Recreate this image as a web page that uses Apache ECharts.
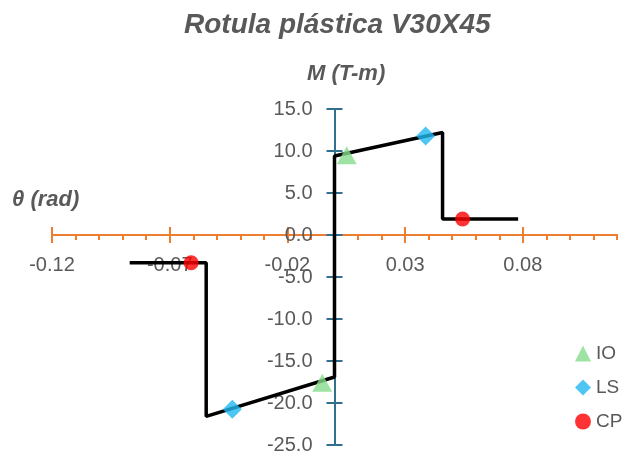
<!DOCTYPE html>
<html>
<head>
<meta charset="utf-8">
<script src="https://cdn.jsdelivr.net/npm/echarts@6/dist/echarts.min.js"></script>
<style>html,body{margin:0;padding:0;background:#fff}#c{width:624px;height:456px}</style>
</head>
<body>
<div id="c"></div>
<script>
// ---- data ----
const titleText = 'Rotula plástica V30X45';
const xAxisName = 'θ (rad)';
const yAxisName = 'M (T-m)';
const xTickLabels = [-0.12, -0.07, -0.02, 0.03, 0.08];
const xMinorTicks = [-0.11, -0.10, -0.09, -0.08, -0.06, -0.05, -0.04, -0.03, -0.01, 0.00, 0.01, 0.02, 0.04, 0.05, 0.06, 0.07, 0.09, 0.10, 0.11, 0.12];
const yTickLabels = [-25, -20, -15, -10, -5, 0, 5, 10, 15];
const thetaLine = [-0.087, -0.0545, -0.0545, 0.0, 0.0, 0.0459, 0.0459, 0.078];
const mLine = [-3.3, -3.3, -21.6, -16.9, 9.4, 12.2, 1.9, 1.9];
const ioTheta = [0.0052, -0.0052];
const ioM = [9.5, -17.6];
const lsTheta = [0.0387, -0.0434];
const lsM = [11.8, -20.75];
const cpTheta = [0.0544, -0.0609];
const cpM = [1.9, -3.3];

const pairs = (xs, ys) => xs.map((x, i) => [x, ys[i]]);
const FONT = 'Liberation Sans';
const GREY = '#595959';
const XCOL = '#ED7D31';
const YCOL = '#31708F';

// grid geometry
const G = { left: 52, right: 7, top: 109, bottom: 11, w: 624, h: 456 };
const xMin = -0.12, xMax = 0.12, yMin = -25, yMax = 15;
const plotW = G.w - G.left - G.right, plotH = G.h - G.top - G.bottom;
const xAxisOffset = -plotH * (0 - yMin) / (yMax - yMin);      // move x axis up to M = 0
const yAxisOffset = -plotW * (0 - xMin) / (xMax - xMin);      // move y axis right to θ = 0

const baseX = {
  type: 'value', min: xMin, max: xMax, position: 'bottom', offset: xAxisOffset,
  axisLine: { show: true, onZero: false, lineStyle: { color: XCOL, width: 2 } },
  splitLine: { show: false }
};
const baseY = {
  type: 'value', min: yMin, max: yMax, interval: 5, position: 'left', offset: yAxisOffset,
  axisLine: { show: true, onZero: false, lineStyle: { color: YCOL, width: 2 } },
  splitLine: { show: false }
};

const chart = echarts.init(document.getElementById('c'), null, { renderer: 'canvas' });
chart.setOption({
  animation: false,
  backgroundColor: '#fff',
  title: {
    text: titleText, left: 179, top: 6,
    textStyle: { fontFamily: FONT, fontSize: 28, fontWeight: 'bold', fontStyle: 'italic', color: GREY }
  },
  graphic: [
    { type: 'text', left: 307, top: 63, style: { text: yAxisName, font: 'italic bold 22px ' + FONT, fill: GREY } },
    { type: 'text', left: 12, top: 189, style: { text: xAxisName, font: 'italic bold 22px ' + FONT, fill: GREY } }
  ],
  grid: { left: G.left, right: G.right, top: G.top, bottom: G.bottom, containLabel: false, outerBoundsMode: 'none' },
  legend: {
    orient: 'vertical', left: 570, top: 339, itemWidth: 16, itemHeight: 16, itemGap: 15,
    textStyle: { fontFamily: FONT, fontSize: 19, color: GREY },
    data: ['IO', 'LS', 'CP']
  },
  xAxis: [
    Object.assign({}, baseX, {
      axisTick: { show: true, inside: false, length: 8, customValues: xTickLabels, lineStyle: { color: XCOL, width: 2 } },
      axisLabel: { show: true, customValues: xTickLabels, margin: 20, fontFamily: FONT, fontSize: 20, color: GREY,
        hideOverlap: false, formatter: v => v.toFixed(2) }
    }),
    Object.assign({}, baseX, {
      axisTick: { show: true, inside: true, length: 8, customValues: xTickLabels, lineStyle: { color: XCOL, width: 2 } },
      axisLabel: { show: false }
    }),
    Object.assign({}, baseX, {
      axisTick: { show: true, inside: false, length: 5, customValues: xMinorTicks, lineStyle: { color: XCOL, width: 2 } },
      axisLabel: { show: false }
    })
  ],
  yAxis: [
    Object.assign({}, baseY, {
      axisTick: { show: true, inside: false, length: 8, customValues: yTickLabels, lineStyle: { color: YCOL, width: 2 } },
      axisLabel: { show: true, customValues: yTickLabels, margin: 22, fontFamily: FONT, fontSize: 20, color: GREY,
        hideOverlap: false, formatter: v => v.toFixed(1) }
    }),
    Object.assign({}, baseY, {
      axisTick: { show: true, inside: true, length: 8, customValues: yTickLabels, lineStyle: { color: YCOL, width: 2 } },
      axisLabel: { show: false }
    })
  ],
  series: [
    { name: 'curve', type: 'line', xAxisIndex: 0, yAxisIndex: 0, data: pairs(thetaLine, mLine),
      showSymbol: false, symbol: 'none', lineStyle: { color: '#000', width: 3.5 }, z: 3 },
    { name: 'IO', type: 'scatter', data: pairs(ioTheta, ioM), symbol: 'triangle', symbolSize: [20, 18],
      itemStyle: { color: '#86DC8C' }, z: 5 },
    { name: 'LS', type: 'scatter', data: pairs(lsTheta, lsM), symbol: 'diamond', symbolSize: [19, 19],
      itemStyle: { color: '#22B8F0' }, z: 5 },
    { name: 'CP', type: 'scatter', data: pairs(cpTheta, cpM), symbol: 'circle', symbolSize: 15,
      itemStyle: { color: '#FF0000' }, z: 5 }
  ]
});
</script>
</body>
</html>
